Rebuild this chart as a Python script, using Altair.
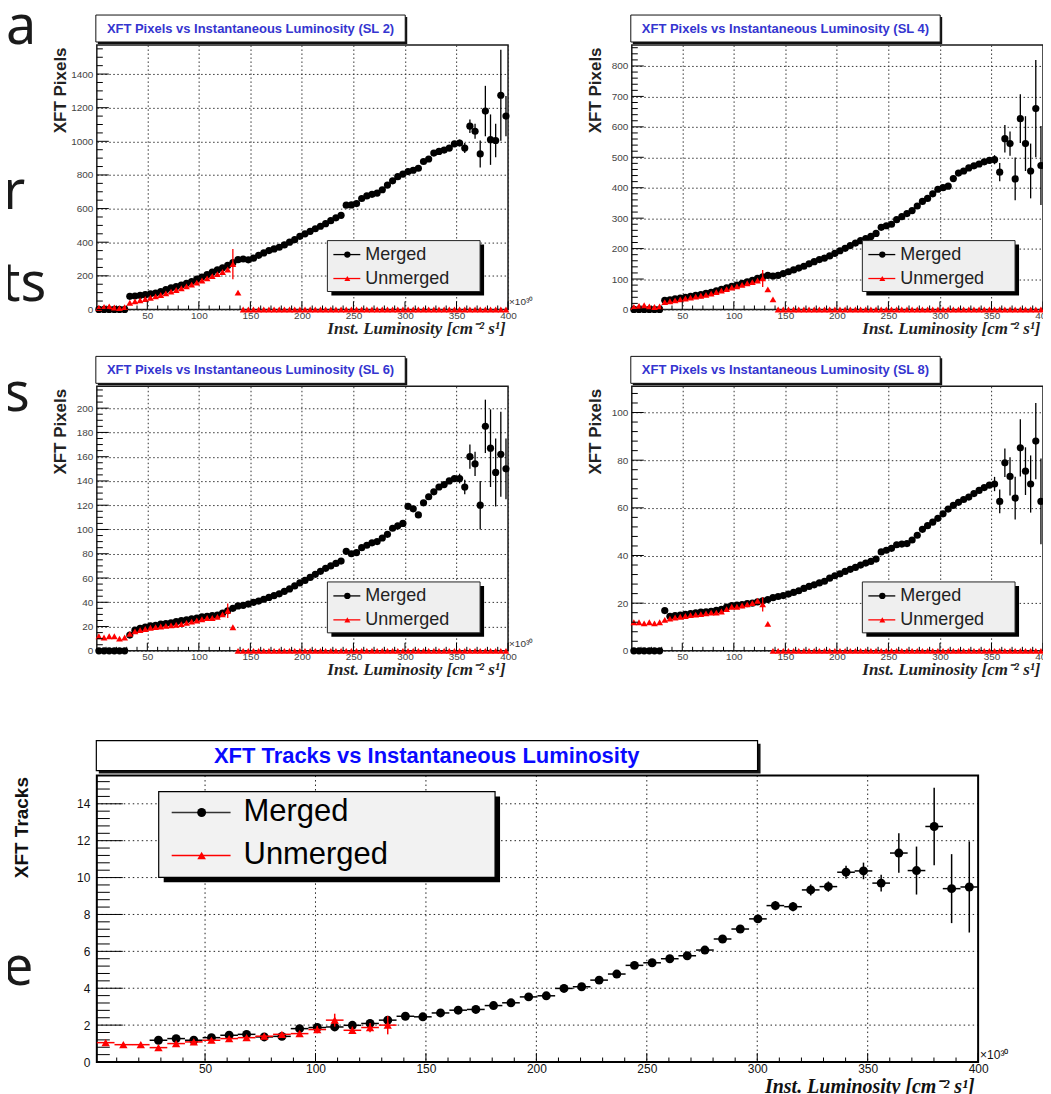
import altair as alt
import pandas as pd

# ------------------------------------------------------------------ data
# bin centres of the four XFT-pixel panels (Inst. Luminosity, x10^30)
panel_x = [3, 8, 13, 18, 23, 28, 33, 38, 43, 48, 53, 58, 63, 68, 73, 78, 83, 88, 93, 98,
           103, 108, 113, 118, 123, 128, 133, 138, 143, 148, 153, 158, 163, 168, 173, 178,
           183, 188, 193, 198, 203, 208, 213, 218, 223, 228, 233, 238, 243, 248, 253, 258,
           263, 268, 273, 278, 283, 288, 293, 298, 303, 308, 313, 318, 323, 328, 333, 338,
           343, 348, 353, 358, 363, 368, 373, 378, 383, 388, 393, 398]

ZERO_TAIL = [0, 0, 0, 0, 0, 0, 0, 0, 0, 0, 0, 0, 0, 0, 0, 0, 0, 0, 0, 0, 0, 0, 0, 0, 0, 0,
             0, 0, 0, 0, 0, 0, 0, 0, 0, 0, 0, 0, 0, 0, 0, 0, 0, 0, 0, 0, 0, 0, 0, 0, 0, 0]

# SL 2
sl2_merged = [0, 0, 0, 0, 0, 0,
              78, 80, 84, 88, 93, 97, 106, 118, 128, 136,
              145, 156, 166, 180, 193, 207, 222, 235, 248, 262,
              278, 296, 300, 295, 305, 322, 336, 350, 360, 370,
              384, 400, 415, 435, 450, 465, 480, 495, 510, 528,
              545, 560, 620, 622, 630, 660, 675, 685, 692, 712,
              740, 765, 790, 805, 820, 828, 840, 880, 895, 930,
              940, 948, 960, 985, 990, 960, 1090, 1060, 925, 1180,
              1010, 1005, 1274, 1150]
sl2_tail_err = [20, 30, 40, 45, 80, 150, 150, 100, 270, 120]
sl2_unmerged = [10, 15, 18, 12, 8, 14,
                40, 48, 55, 62, 70, 78, 86, 96, 106, 116,
                126, 137, 148, 160, 172, 185, 198, 210, 223, 238,
                270, 100] + ZERO_TAIL
sl2_unmerged_err = [133, 270, 90]

# SL 4
sl4_merged = [0, 0, 0, 0, 0, 0,
              30, 32, 35, 37, 40, 43, 46, 49, 53, 56,
              61, 66, 71, 76, 80, 86, 91, 96, 102, 107,
              112, 110, 112, 118, 124, 130, 136, 142, 150, 157,
              164, 169, 176, 184, 193, 201, 210, 218, 226, 233,
              240, 250, 270, 275, 280, 295, 305, 315, 325, 340,
              355, 365, 380, 395, 400, 405, 430, 448, 455, 465,
              472, 478, 485, 490, 492, 451, 561, 545, 429, 627,
              545, 455, 660, 473]
sl4_tail_err = [15, 30, 45, 40, 70, 80, 90, 90, 160, 130]
sl4_unmerged = [8, 12, 14, 10, 8, 10,
                24, 27, 30, 33, 36, 39, 42, 45, 48, 52,
                57, 62, 67, 72, 76, 81, 86, 90, 95, 102,
                66, 33] + ZERO_TAIL
sl4_unmerged_err = [128, 102, 28]

# SL 6
sl6_merged = [0, 0, 0, 0, 0, 0,
              13, 17, 18.5, 19.5, 20.5, 21, 22, 22.5, 23, 24,
              24.8, 25.5, 26.3, 27, 28, 28.5, 29, 29.5, 31, 33,
              35, 37, 37.5, 38.5, 40, 41, 42.5, 44, 45.5, 47,
              49, 51, 53.5, 56, 58, 60.5, 63, 65.5, 68, 70,
              72, 74, 82, 80, 81, 85, 87, 89, 90, 93,
              96, 101, 103, 105, 119, 117, 112, 122, 127, 131,
              135, 137, 140, 142, 142, 135, 160, 154, 120, 185,
              167, 147, 162, 150]
sl6_tail_err = [4, 6, 10, 10, 20, 22, 32, 28, 35, 25]
sl6_unmerged = [12, 11, 12, 12, 10, 11,
                14, 16, 17, 18, 19, 19.5, 20, 20.5, 21, 21.5,
                22, 23, 24, 25, 26, 27, 27, 28, 30, 33,
                19.4, 0] + ZERO_TAIL
sl6_unmerged_err = [128, 33, 6]

# SL 8
sl8_merged = [0, 0, 0, 0, 0, 0,
              16.9, 14.5, 14.8, 15, 15.3, 15.6, 15.9, 16.2, 16.4, 16.6,
              17, 17.4, 18.3, 19, 19.2, 19.4, 19.8, 20, 20.5, 21,
              21.5, 22.3, 22.8, 23.2, 23.8, 24.5, 25.2, 26.2, 27, 27.7,
              28.5, 29.2, 30.5, 31.5, 32.3, 33.3, 34.2, 35, 36, 36.8,
              37.5, 38.5, 41.5, 42.2, 43, 44.5, 44.8, 45, 46.5, 48.5,
              51, 52.5, 54, 55.6, 57.5, 59.5, 61, 62.3, 63.5, 64.5,
              66, 67.3, 68.5, 69.5, 70, 62.7, 78.9, 73.2, 64.1, 85.2,
              75.4, 70, 88, 62.7]
sl8_tail_err = [3, 5, 6, 8, 9, 12, 10, 12, 16, 18]
sl8_unmerged = [12, 12, 11.5, 12, 11.5, 12,
                13, 13.5, 14, 14.3, 14.6, 15, 15.2, 15.4, 15.7, 16,
                16, 16.5, 17.5, 18.5, 18.5, 19, 19.5, 20, 21, 19.5,
                11.3, 0] + ZERO_TAIL
sl8_unmerged_err = [128, 19.5, 3]

# XFT tracks (bottom panel)
bottom_x = [5.0, 13.0, 20.9, 28.9, 36.9, 44.9, 52.9, 60.9, 68.8, 76.8, 84.8, 92.8, 100.8,
            108.7, 116.7, 124.7, 132.7, 140.7, 148.6, 156.6, 164.6, 172.6, 180.6, 188.5,
            196.5, 204.5, 212.5, 220.5, 228.4, 236.4, 244.4, 252.4, 260.4, 268.3, 276.3,
            284.3, 292.3, 300.3, 308.2, 316.2, 324.2, 332.2, 340.2, 348.1, 356.1, 364.1,
            372.1, 380.1, 388.0, 396.0]
bin_half = 4.0
tracks_merged = [1.18, 1.27, 1.18, 1.32, 1.45, 1.50, 1.36, 1.39, 1.81, 1.87,
                 1.90, 1.99, 2.09, 2.27, 2.48, 2.45, 2.66, 2.81, 2.85, 3.06,
                 3.21, 3.53, 3.59, 3.99, 4.08, 4.44, 4.77, 5.24, 5.38, 5.60,
                 5.76, 6.07, 6.67, 7.21, 7.76, 8.48, 8.42, 9.33, 9.51, 10.29,
                 10.36, 9.70, 11.33, 10.38, 12.77, 9.40, 9.49]
tracks_merged_err = [0.10, 0.10, 0.10, 0.10, 0.10, 0.10, 0.10, 0.10, 0.10, 0.10,
                     0.12, 0.12, 0.12, 0.12, 0.12, 0.12, 0.12, 0.12, 0.12, 0.12,
                     0.12, 0.14, 0.14, 0.14, 0.14, 0.15, 0.15, 0.15, 0.15, 0.16,
                     0.16, 0.17, 0.18, 0.20, 0.20, 0.25, 0.25, 0.30, 0.28, 0.35,
                     0.45, 0.45, 1.07, 1.30, 2.10, 1.87, 2.47]
tracks_unmerged = [1.05, 0.94, 0.94, 0.78, 1.00, 1.09, 1.18, 1.27, 1.32, 1.40,
                   1.50, 1.54, 1.76, 2.27, 1.72, 1.87, 2.00]
tracks_unmerged_err = [0.10, 0.10, 0.10, 0.10, 0.10, 0.10, 0.10, 0.10, 0.10, 0.10,
                       0.10, 0.15, 0.20, 0.35, 0.20, 0.25, 0.50]

# ticks
x_major = [50, 100, 150, 200, 250, 300, 350, 400]
x_minor = [10, 20, 30, 40, 60, 70, 80, 90, 110, 120, 130, 140, 160, 170, 180, 190,
           210, 220, 230, 240, 260, 270, 280, 290, 310, 320, 330, 340, 360, 370, 380, 390]
sl2_ymaj = [0, 200, 400, 600, 800, 1000, 1200, 1400]
sl2_ymin = [50, 100, 150, 250, 300, 350, 450, 500, 550, 650, 700, 750, 850, 900, 950,
            1050, 1100, 1150, 1250, 1300, 1350, 1450, 1500, 1550]
sl4_ymaj = [0, 100, 200, 300, 400, 500, 600, 700, 800]
sl4_ymin = [20, 40, 60, 80, 120, 140, 160, 180, 220, 240, 260, 280, 320, 340, 360, 380,
            420, 440, 460, 480, 520, 540, 560, 580, 620, 640, 660, 680, 720, 740, 760,
            780, 820, 840, 860]
sl6_ymaj = [0, 20, 40, 60, 80, 100, 120, 140, 160, 180, 200]
sl6_ymin = [5, 10, 15, 25, 30, 35, 45, 50, 55, 65, 70, 75, 85, 90, 95, 105, 110, 115,
            125, 130, 135, 145, 150, 155, 165, 170, 175, 185, 190, 195, 205, 210, 215]
sl8_ymaj = [0, 20, 40, 60, 80, 100]
sl8_ymin = [4, 8, 12, 16, 24, 28, 32, 36, 44, 48, 52, 56, 64, 68, 72, 76, 84, 88, 92,
            96, 104, 108]
trk_ymaj = [0, 2, 4, 6, 8, 10, 12, 14]
trk_grid = [2, 4, 6, 8, 10, 12, 14]
trk_ymin = [0.4, 0.8, 1.2, 1.6, 2.4, 2.8, 3.2, 3.6, 4.4, 4.8, 5.2, 5.6, 6.4, 6.8, 7.2,
            7.6, 8.4, 8.8, 9.2, 9.6, 10.4, 10.8, 11.2, 11.6, 12.4, 12.8, 13.2, 13.6,
            14.4, 14.8, 15.2]

assert len(panel_x) == 80
for arr in (sl2_merged, sl2_unmerged, sl4_merged, sl4_unmerged, sl6_merged,
            sl6_unmerged, sl8_merged, sl8_unmerged):
    assert len(arr) == 80, len(arr)
assert len(bottom_x) == 50 and len(tracks_merged) == 47 and len(tracks_unmerged) == 17

# ------------------------------------------------------------------ helpers
FONT = "Liberation Sans"
SERIF = "Liberation Serif"
XTITLE = "Inst. Luminosity [cm\u207b\u00b2 s\u00b9]"
X10 = "\u00d710\u00b3\u2070"
one = pd.DataFrame({"k": [0]})


def d_text(text, x, y, size, color="black", font=FONT, weight="normal", style="normal",
           align="left", baseline="middle"):
    return alt.Chart(one).mark_text(
        text=text, font=font, fontSize=size, fontWeight=weight, fontStyle=style,
        color=color, align=align, baseline=baseline
    ).encode(x=alt.value(x), y=alt.value(y))


def d_rect(x1, y1, x2, y2, fill="white", stroke=None, sw=1.0, fill_opacity=1.0, opacity=1.0):
    kw = dict(fill=fill, fillOpacity=fill_opacity, opacity=opacity)
    if stroke is not None:
        kw["stroke"] = stroke
        kw["strokeWidth"] = sw
    return alt.Chart(one).mark_rect(**kw).encode(
        x=alt.value(x1), x2=alt.value(x2), y=alt.value(y1), y2=alt.value(y2))


def d_rule(x1, y1, x2, y2, color="black", sw=1.0):
    return alt.Chart(one).mark_rule(color=color, strokeWidth=sw).encode(
        x=alt.value(x1), x2=alt.value(x2), y=alt.value(y1), y2=alt.value(y2))


def d_point(x, y, shape, color, size):
    return alt.Chart(one).mark_point(shape=shape, filled=True, color=color, size=size,
                                     opacity=1).encode(x=alt.value(x), y=alt.value(y))


def letter(ch, x, y):
    return d_text(ch, x, y, 54, color="#1a1a1a", font="Noto Sans", baseline="alphabetic")


def invisible(x, y):
    return d_rect(x, y, x + 1, y + 1, fill="white", opacity=0)


PW, PH = 412, 265


def panel(sl, merged, unmerged, tail_err, u_err, ymax, ymaj, ymin, extras=()):
    xsc = alt.Scale(domain=[1, 400], nice=False, zero=False)
    ysc = alt.Scale(domain=[0, ymax], nice=False, zero=False)
    common = dict(grid=True, gridDash=[1.5, 2.5], gridColor="#333", gridWidth=1,
                  domain=False, ticks=False, labelFont=FONT, labelFontSize=10,
                  labelColor="#444", labelFlush=False, labelOverlap=False, format="d")
    xaxis = alt.Axis(values=x_major, labelPadding=1, title=XTITLE, titleFont=SERIF,
                     titleFontSize=17, titleFontStyle="italic", titleFontWeight="bold",
                     titleColor="#222", titleAlign="right", titleAnchor="end",
                     titleBaseline="alphabetic", titleX=PW - 3, titleY=24, **common)
    yaxis = alt.Axis(values=ymaj, labelPadding=4, title="XFT Pixels", titleFont=FONT,
                     titleFontSize=17, titleFontWeight="bold", titleColor="#222",
                     titleAngle=270, titleAlign="right", titleBaseline="middle",
                     titleX=-36, titleY=2, **common)
    X = lambda f="x": alt.X(f"{f}:Q", scale=xsc, axis=xaxis)
    Y = lambda f="y": alt.Y(f"{f}:Q", scale=ysc, axis=yaxis)

    dm = pd.DataFrame({"x": panel_x, "y": merged})
    du = pd.DataFrame({"x": panel_x, "y": unmerged})
    tx, ty = panel_x[-10:], merged[-10:]
    de = pd.DataFrame({"x": tx, "lo": [a - b for a, b in zip(ty, tail_err)],
                       "hi": [a + b for a, b in zip(ty, tail_err)]})
    ux, uy, ue = u_err
    due = pd.DataFrame({"x": [ux], "lo": [uy - ue], "hi": [uy + ue]})

    def vt(vals, length):
        return alt.Chart(pd.DataFrame({"v": vals})).mark_rule(color="black", strokeWidth=1).encode(
            x=X("v"), y=alt.value(PH), y2=alt.value(PH - length))

    def ht(vals, length):
        return alt.Chart(pd.DataFrame({"v": vals})).mark_rule(color="black", strokeWidth=1).encode(
            y=Y("v"), x=alt.value(0), x2=alt.value(length))

    layers = [
        alt.Chart(de).mark_rule(color="black", strokeWidth=1.3).encode(x=X(), y=Y("lo"), y2="hi:Q"),
        alt.Chart(dm).mark_point(shape="circle", filled=True, size=52, color="black",
                                 opacity=1).encode(x=X(), y=Y()),
        alt.Chart(due).mark_rule(color="#ff0000", strokeWidth=1.3).encode(x=X(), y=Y("lo"), y2="hi:Q"),
        alt.Chart(du).mark_point(shape="triangle-up", filled=True, size=46, color="#ff0000",
                                 opacity=1).encode(x=X(), y=Y()),
        vt(x_minor, 4), vt(x_major, 8), ht(ymin, 6), ht(ymaj, 12),
        # legend
        d_rect(235, 200, 388, 251, fill="black"),
        d_rect(231, 196, 384, 247, fill="#efefef", stroke="#222", sw=1),
        d_rule(237, 210, 264, 210, "black", 1.3),
        d_point(251, 210, "circle", "black", 40),
        d_text("Merged", 269, 210, 18, color="#222"),
        d_rule(237, 234, 264, 234, "#ff0000", 1.3),
        d_point(251, 234, "triangle-up", "#ff0000", 36),
        d_text("Unmerged", 269, 234, 18, color="#222"),
        # title box
        d_rect(1, -28, 311, -1, fill="#111"),
        d_rect(-1, -30, 309, -3, fill="white", stroke="#111", sw=1),
        d_text(f"XFT Pixels vs Instantaneous Luminosity (SL {sl})", 154, -16.5, 13,
               color="#3535d0", weight="bold", align="center"),
        d_text(X10, 413, 261, 10, color="#333", baseline="alphabetic"),
    ] + list(extras)
    return alt.layer(*layers).properties(width=PW, height=PH)


# ------------------------------------------------------------------ panels
p2 = panel(2, sl2_merged, sl2_unmerged, sl2_tail_err, sl2_unmerged_err, 1573,
           sl2_ymaj, sl2_ymin,
           extras=[letter("a", -91, -1), letter("r", -94, 164), letter("ts", -96, 257),
                   invisible(-106, -53)])
p4 = panel(4, sl4_merged, sl4_unmerged, sl4_tail_err, sl4_unmerged_err, 869,
           sl4_ymaj, sl4_ymin, extras=[invisible(460, 0)])
p6 = panel(6, sl6_merged, sl6_unmerged, sl6_tail_err, sl6_unmerged_err, 218,
           sl6_ymaj, sl6_ymin, extras=[letter("s", -93, 25)])
p8 = panel(8, sl8_merged, sl8_unmerged, sl8_tail_err, sl8_unmerged_err, 111,
           sl8_ymaj, sl8_ymin)

# ------------------------------------------------------------------ bottom (tracks)
# the view is laid out 412 px wide (one grid column); its x range is stretched to 883 px
BW, BH, BT, BLAYOUT = 883, 335, 48, 412
bxs = alt.Scale(domain=[1, 400], range=[0, BW], nice=False, zero=False)
bys = alt.Scale(domain=[0, 15.53], range=[BH, BT], nice=False, zero=False)
bx_axis = alt.Axis(values=x_major, grid=False, domain=False, ticks=False, labelFont=FONT,
                   labelFontSize=12, labelColor="#111", labelPadding=2, labelFlush=False,
                   labelOverlap=False, format="d", title=XTITLE, titleFont=SERIF,
                   titleFontSize=20, titleFontStyle="italic", titleFontWeight="bold",
                   titleColor="#111", titleAlign="right", titleAnchor="end",
                   titleBaseline="alphabetic", titleX=BW - 4, titleY=31)
by_axis = alt.Axis(values=trk_ymaj, grid=False, domain=False, ticks=False, labelFont=FONT,
                   labelFontSize=12, labelColor="#111", labelPadding=7, labelFlush=False,
                   labelOverlap=False, format="d", title="XFT Tracks", titleFont=FONT,
                   titleFontSize=19, titleFontWeight="bold", titleColor="#111",
                   titleAngle=270, titleAlign="right", titleBaseline="middle",
                   titleX=-75.5, titleY=49)
BX = lambda f="x": alt.X(f"{f}:Q", scale=bxs, axis=bx_axis)
BY = lambda f="y": alt.Y(f"{f}:Q", scale=bys, axis=by_axis)

mx = bottom_x[3:]
dm_b = pd.DataFrame({"x": mx, "y": tracks_merged,
                     "lo": [a - b for a, b in zip(tracks_merged, tracks_merged_err)],
                     "hi": [a + b for a, b in zip(tracks_merged, tracks_merged_err)],
                     "xl": [v - bin_half for v in mx], "xh": [v + bin_half for v in mx]})
ux_b = bottom_x[:17]
du_b = pd.DataFrame({"x": ux_b, "y": tracks_unmerged,
                     "lo": [a - b for a, b in zip(tracks_unmerged, tracks_unmerged_err)],
                     "hi": [a + b for a, b in zip(tracks_unmerged, tracks_unmerged_err)],
                     "xl": [max(1.0, v - bin_half) for v in ux_b],
                     "xh": [v + bin_half for v in ux_b]})


def bvt(vals, length):
    return alt.Chart(pd.DataFrame({"v": vals})).mark_rule(color="black", strokeWidth=1).encode(
        x=BX("v"), y=alt.value(BH), y2=alt.value(BH - length))


def bht(vals, length):
    return alt.Chart(pd.DataFrame({"v": vals})).mark_rule(color="black", strokeWidth=1).encode(
        y=BY("v"), x=alt.value(0), x2=alt.value(length))


bottom_layers = [
    alt.Chart(pd.DataFrame({"v": x_major[:-1]})).mark_rule(
        color="#222", strokeWidth=1, strokeDash=[1.5, 3]).encode(
        x=BX("v"), y=alt.value(BT), y2=alt.value(BH)),
    alt.Chart(pd.DataFrame({"v": trk_grid})).mark_rule(
        color="#222", strokeWidth=1, strokeDash=[1.5, 3]).encode(
        y=BY("v"), x=alt.value(0), x2=alt.value(BW)),
    bvt(x_minor, 4.5), bvt(x_major, 9), bht(trk_ymin, 13), bht(trk_ymaj, 26),
    d_rect(0, BT, BW, BH, fill="white", fill_opacity=0, stroke="black", sw=2),
    alt.Chart(dm_b).mark_rule(color="black", strokeWidth=1.5).encode(x=BX(), y=BY("lo"), y2="hi:Q"),
    alt.Chart(dm_b).mark_rule(color="black", strokeWidth=1.5).encode(x=BX("xl"), x2="xh:Q", y=BY()),
    alt.Chart(dm_b).mark_point(shape="circle", filled=True, size=80, color="black",
                               opacity=1).encode(x=BX(), y=BY()),
    alt.Chart(du_b).mark_rule(color="#ff0000", strokeWidth=1.5).encode(x=BX(), y=BY("lo"), y2="hi:Q"),
    alt.Chart(du_b).mark_rule(color="#ff0000", strokeWidth=1.5).encode(x=BX("xl"), x2="xh:Q", y=BY()),
    alt.Chart(du_b).mark_point(shape="triangle-up", filled=True, size=70, color="#ff0000",
                               opacity=1).encode(x=BX(), y=BY()),
    # legend
    d_rect(67, 69, 404, 155, fill="black"),
    d_rect(62, 64, 399, 150, fill="#f2f2f2", stroke="black", sw=1.2),
    d_rule(75, 85, 134, 85, "#333", 1.5),
    d_point(105, 85, "circle", "black", 80),
    d_text("Merged", 147, 85, 31, color="black"),
    d_rule(75, 128, 134, 128, "#ff0000", 1.5),
    d_point(105, 128, "triangle-up", "#ff0000", 75),
    d_text("Unmerged", 147, 128, 31, color="black"),
    # title box
    d_rect(2, 16, 665, 46, fill="#111"),
    d_rect(-0.5, 13, 662, 43, fill="white", stroke="black", sw=1.2),
    d_text("XFT Tracks vs Instantaneous Luminosity", 330.5, 28.5, 22, color="#0a0aff",
           weight="bold", align="center"),
    d_text(X10, 885, 332, 12, color="#111", baseline="alphabetic"),
    letter("e", -94, 258),
    invisible(0, 394),
]
bottom = alt.layer(*bottom_layers).properties(
    width=BLAYOUT, height=BH, view=alt.ViewBackground(strokeOpacity=0))

chart = alt.concat(
    p2, p4, p6, p8, bottom, columns=2, spacing={"row": 77, "column": 124},
    bounds="flush", align="none"
).properties(
    padding={"left": -18, "top": -18, "right": -50, "bottom": -28}
).configure_view(stroke="#1a1a1a", strokeWidth=1.5)

chart.save("out.html", embed_options={"renderer": "svg", "actions": False})
